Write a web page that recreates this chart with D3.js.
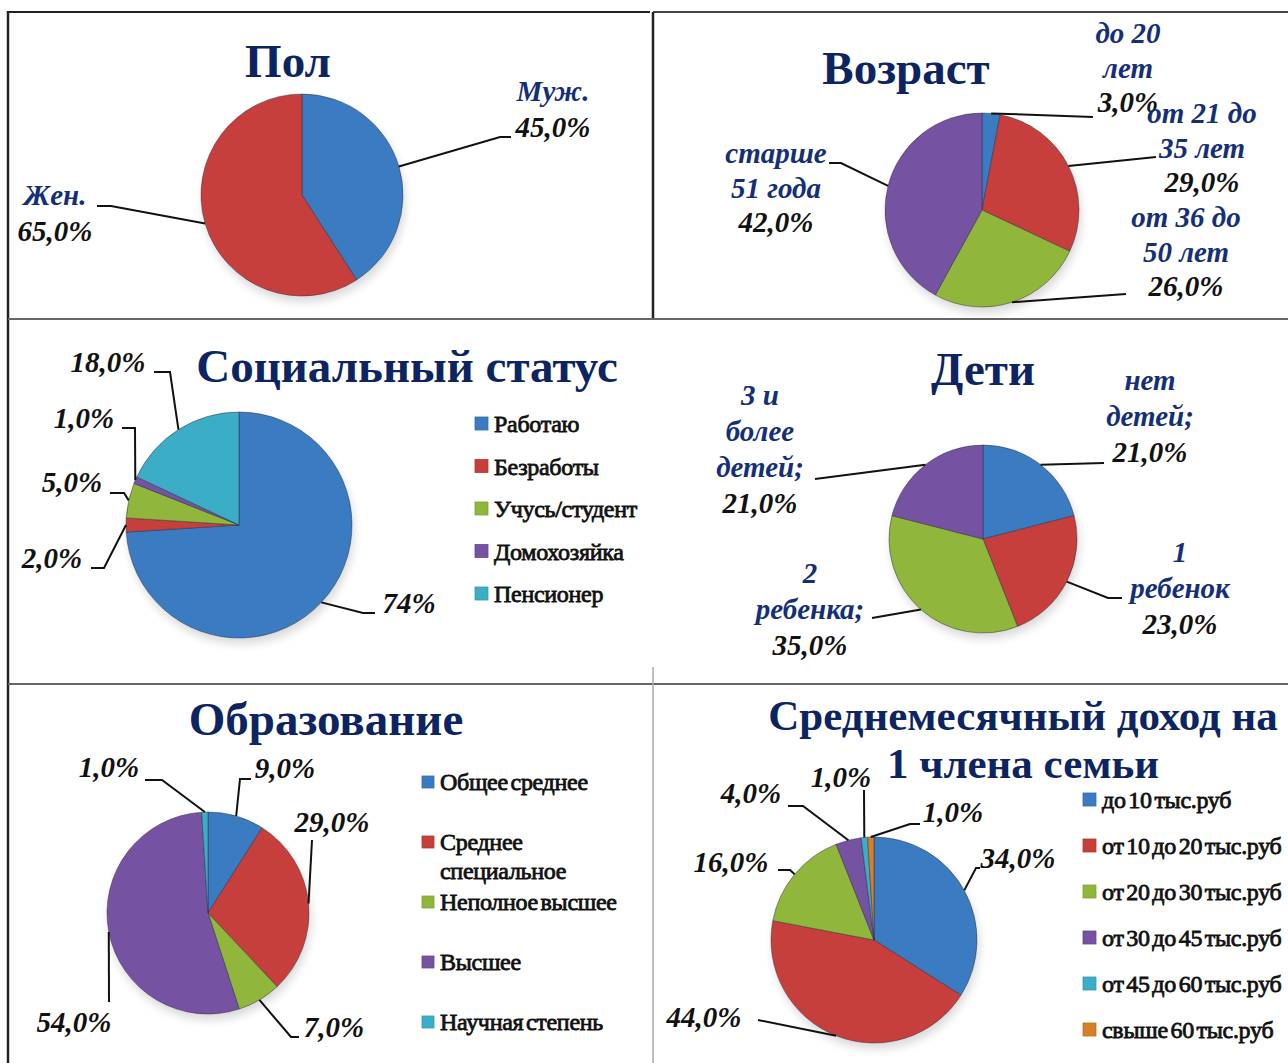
<!DOCTYPE html>
<html>
<head>
<meta charset="utf-8">
<script src="https://cdn.jsdelivr.net/npm/d3@7/dist/d3.min.js"></script>
<style>
  body { margin: 0; background: #fff; }
  svg { display: block; }
</style>
</head>
<body>
<script>
    // --- data ---
    var polNames = ["Муж.", "Жен."];
    var polValues = [45, 65];

    var ageNames = ["до 20\nлет", "от 21 до\n35 лет", "от 36 до\n50 лет", "старше\n51 года"];
    var ageValues = [3, 29, 26, 42];

    var statusNames = ["Работаю", "Безработы", "Учусь/студент", "Домохозяйка", "Пенсионер"];
    var statusValues = [74, 2, 5, 1, 18];

    var childNames = ["нет\nдетей;", "1\nребенок", "2\nребенка;", "3 и\nболее\nдетей;"];
    var childValues = [21, 23, 35, 21];

    var eduNames = ["Общее среднее", "Среднее\nспециальное", "Неполное высшее", "Высшее", "Научная степень"];
    var eduValues = [9, 29, 7, 54, 1];

    var incomeNames = ["до 10 тыс.руб", "от 10 до 20 тыс.руб", "от 20 до 30 тыс.руб", "от 30 до 45 тыс.руб", "от 45 до 60 тыс.руб", "свыше 60 тыс.руб"];
    var incomeValues = [34, 44, 16, 4, 1, 1];

    var colors = ["#4490e4", "#e84a46", "#a9d646", "#8a60bf", "#47cbea", "#fb9530"];
    var titleColor = "#0c2462";
    var nameColor = "#142f78";

    var pctFormat = function(v, short) {
        return short ? v + "%" : d3.format(".1f")(v).replace(".", ",") + "%";
    };

    // --- layout ---
    var panels = [
        {title: ["Пол"], tx: 288, ty: 77, tsize: 47, cx: 302, cy: 195, r: 101,
         names: polNames, values: polValues, lh: 36, showNames: true,
         labels: [
            {x: 553, y: 101, pts: [[500, 137], [511, 137]]},
            {x: 55, y: 205, pts: [[111, 206], [97, 206]]}
         ]},
        {title: ["Возраст"], tx: 906, ty: 84, tsize: 47, cx: 982, cy: 210, r: 97,
         names: ageNames, values: ageValues, lh: 34.5, showNames: true,
         labels: [
            {x: 1128, y: 43, pts: [[1093, 117]]},
            {x: 1202, y: 123, pts: [[1156, 157]]},
            {x: 1186, y: 227, pts: [[1126, 294]]},
            {x: 776, y: 163, pts: [[841, 163], [829, 163]]}
         ]},
        {title: ["Социальный статус"], tx: 407, ty: 382, tsize: 47, cx: 239, cy: 525, r: 113,
         names: statusNames, values: statusValues, lh: 34, showNames: false,
         legend: {x: 475, y: 432, step: 42.5, box: 13},
         labels: [
            {x: 409, y: 613, pts: [[363, 613], [375, 613]], short: true},
            {x: 52, y: 568, pts: [[104, 568], [91, 568]]},
            {x: 72, y: 492, pts: [[124, 493], [110, 493]]},
            {x: 84, y: 428, pts: [[135, 428], [122, 428]]},
            {x: 108, y: 372, pts: [[170, 372], [154, 372]]}
         ]},
        {title: ["Дети"], tx: 983, ty: 385, tsize: 47, cx: 983, cy: 539, r: 94,
         names: childNames, values: childValues, lh: 36, showNames: true,
         labels: [
            {x: 1150, y: 390, pts: [[1104, 463]]},
            {x: 1180, y: 562, pts: [[1108, 598], [1122, 598]]},
            {x: 810, y: 583, pts: [[872, 618]]},
            {x: 760, y: 405, pts: [[815, 479]]}
         ]},
        {title: ["Образование"], tx: 326, ty: 735, tsize: 47, cx: 208, cy: 913, r: 101,
         names: eduNames, values: eduValues, lh: 34, showNames: false,
         legend: {x: 422, y: 790, step: 60, box: 12},
         labels: [
            {x: 285, y: 778, pts: [[240, 779], [251, 779]]},
            {x: 332, y: 832, pts: [[312, 840]]},
            {x: 334, y: 1037, pts: [[291, 1037], [299, 1037]]},
            {x: 74, y: 1032, pts: [[109, 1002]]},
            {x: 109, y: 777, pts: [[162, 780], [145, 780]]}
         ]},
        {title: ["Среднемесячный доход на", "1 члена семьи"], tx: 1023, ty: 730, tsize: 43, tlh: 48,
         cx: 874, cy: 940, r: 103,
         names: incomeNames, values: incomeValues, lh: 34, showNames: false,
         legend: {x: 1083, y: 808, step: 46, box: 13},
         labels: [
            {x: 1018, y: 868, pts: [[976, 868], [980, 868]]},
            {x: 704, y: 1027, pts: [[758, 1020]]},
            {x: 731, y: 872, pts: [[790, 870], [778, 870]]},
            {x: 751, y: 803, pts: [[803, 806], [788, 806]]},
            {x: 841, y: 787, pts: [[864, 790]]},
            {x: 953, y: 822, pts: [[910, 824], [920, 824]]}
         ]}
    ];

    var W = 1288, H = 1063;

    var svg = d3.select("body").append("svg")
        .attr("width", W)
        .attr("height", H);

    var defs = svg.append("defs");

    defs.append("filter")
        .attr("id", "shadow")
        .attr("x", "-30%").attr("y", "-30%")
        .attr("width", "160%").attr("height", "160%")
        .append("feGaussianBlur")
        .attr("stdDeviation", 5);

    //frame lines
    var frame = svg.append("g").attr("id", "frame");
    var frameLines = [
        [8, 12, 650, 12, "#222", 2],
        [653, 12, 1288, 12, "#444", 2],
        [8, 11, 8, 1063, "#222", 2.5],
        [653, 12, 653, 320, "#222", 2.5],
        [8, 319, 1288, 319, "#666", 2],
        [8, 684, 1288, 684, "#666", 2],
        [653, 667, 653, 1063, "#aaa", 1.5]
    ];
    frame.selectAll("line")
        .data(frameLines)
        .enter()
        .append("line")
        .attr("x1", d => d[0]).attr("y1", d => d[1])
        .attr("x2", d => d[2]).attr("y2", d => d[3])
        .attr("stroke", d => d[4])
        .attr("stroke-width", d => d[5]);

    var pie = d3.pie().sort(null).value(d => d);

    panels.forEach(function(p, pi) {
        var g = svg.append("g").attr("class", "panel");

        // gradients
        p.values.forEach(function(v, j) {
            var base = d3.color(colors[j]);
            var grad = defs.append("radialGradient")
                .attr("id", "grad" + pi + "_" + j)
                .attr("gradientUnits", "userSpaceOnUse")
                .attr("cx", p.cx).attr("cy", p.cy).attr("r", p.r)
                .attr("fx", p.cx - p.r * 0.15).attr("fy", p.cy - p.r * 0.25);
            grad.append("stop").attr("offset", "0%").attr("stop-color", base.brighter(0.2));
            grad.append("stop").attr("offset", "86%").attr("stop-color", base);
            grad.append("stop").attr("offset", "95%").attr("stop-color", base.brighter(0.2));
            grad.append("stop").attr("offset", "100%").attr("stop-color", base.darker(0.45));
        });

        // title
        g.append("text")
            .attr("x", p.tx)
            .attr("y", p.ty)
            .attr("text-anchor", "middle")
            .style("font-family", "'Liberation Serif', 'Times New Roman', serif")
            .style("font-weight", "bold")
            .style("font-size", p.tsize + "px")
            .style("fill", titleColor)
            .selectAll("tspan")
            .data(p.title)
            .enter()
            .append("tspan")
            .attr("x", p.tx)
            .attr("dy", (d, i) => i == 0 ? 0 : p.tlh)
            .text(d => d);

        // shadow
        g.append("ellipse")
            .attr("cx", p.cx + 2)
            .attr("cy", p.cy + 6)
            .attr("rx", p.r)
            .attr("ry", p.r)
            .attr("fill", "#000")
            .attr("opacity", 0.15)
            .attr("filter", "url(#shadow)");

        var arcs = pie(p.values);
        var arc = d3.arc().innerRadius(0).outerRadius(p.r);

        g.append("g")
            .attr("transform", "translate(" + p.cx + "," + p.cy + ")")
            .selectAll("path")
            .data(arcs)
            .enter()
            .append("path")
            .attr("d", arc)
            .attr("fill", (d, j) => "url(#grad" + pi + "_" + j + ")")
            .attr("stroke", "rgba(40,40,60,0.45)")
            .attr("stroke-width", 1);

        // leader lines
        g.append("g")
            .selectAll("polyline")
            .data(arcs)
            .enter()
            .append("polyline")
            .attr("points", function(d, j) {
                var mid = (d.startAngle + d.endAngle) / 2;
                var start = [p.cx + p.r * Math.sin(mid), p.cy - p.r * Math.cos(mid)];
                return [start].concat(p.labels[j].pts).map(q => q.join(",")).join(" ");
            })
            .attr("fill", "none")
            .attr("stroke", "#111")
            .attr("stroke-width", 2);

        // data labels
        var lab = g.append("g")
            .selectAll("text")
            .data(arcs)
            .enter()
            .append("text")
            .attr("text-anchor", "middle")
            .style("font-family", "'Liberation Serif', 'Times New Roman', serif")
            .style("font-weight", "bold")
            .style("font-style", "italic")
            .style("font-size", "29px");

        lab.each(function(d, j) {
            var t = d3.select(this);
            var L = p.labels[j];
            var lines = p.showNames ? p.names[j].split("\n") : [];
            lines.forEach(function(s, k) {
                t.append("tspan")
                    .attr("x", L.x)
                    .attr("y", L.y + k * p.lh)
                    .style("fill", nameColor)
                    .text(s);
            });
            t.append("tspan")
                .attr("x", L.x)
                .attr("y", L.y + lines.length * p.lh)
                .style("fill", "#111")
                .text(pctFormat(d.data, L.short));
        });

        // legend
        if (p.legend) {
            var lg = p.legend;
            var items = g.append("g")
                .selectAll("g")
                .data(p.names)
                .enter()
                .append("g")
                .attr("transform", (d, j) => "translate(" + lg.x + "," + (lg.y + j * lg.step) + ")");

            items.append("rect")
                .attr("x", 0)
                .attr("y", -lg.box - 2)
                .attr("width", lg.box)
                .attr("height", lg.box)
                .attr("fill", (d, j) => "url(#grad" + pi + "_" + j + ")")
                .attr("stroke", (d, j) => d3.color(colors[j]).darker(0.8))
                .attr("stroke-width", 0.8);

            items.append("text")
                .style("font-family", "'Liberation Serif', 'Times New Roman', serif")
                .style("font-size", "24px")
                .style("letter-spacing", "-0.3px")
                .style("word-spacing", "-3px")
                .style("fill", "#111")
                .style("stroke", "#111")
                .style("stroke-width", "0.8px")
                .selectAll("tspan")
                .data(d => d.split("\n"))
                .enter()
                .append("tspan")
                .attr("x", lg.box + 6)
                .attr("y", (d, k) => k * 29)
                .text(d => d);
        }
    });
</script>
</body>
</html>
